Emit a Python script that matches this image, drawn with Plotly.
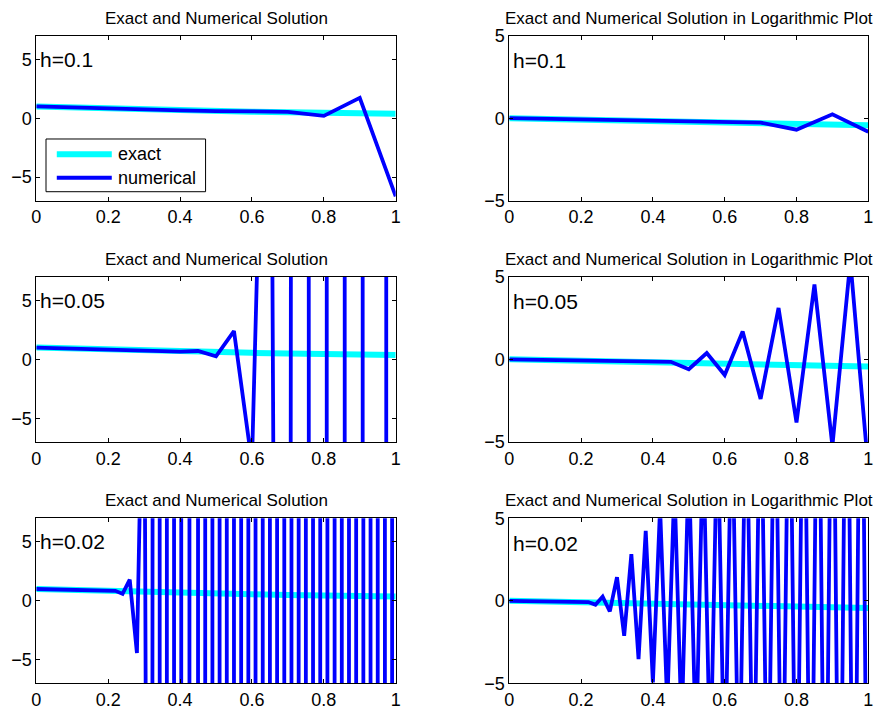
import numpy as np
import plotly.graph_objects as go

# ---------------- data ----------------
x_exact = [0.0, 0.1, 0.2, 0.3, 0.4, 0.5, 0.6, 0.7, 0.8, 0.9, 1.0]
exact_vals = [1.0, 0.9048, 0.8187, 0.7408, 0.6703, 0.6065, 0.5488, 0.4966, 0.4493, 0.4066, 0.3679]
exact_log = [0.0, -0.0434, -0.0869, -0.1303, -0.1737, -0.2171, -0.2606, -0.3040, -0.3474, -0.3909, -0.4343]

x_h01 = [0.0, 0.1, 0.2, 0.3, 0.4, 0.5, 0.6, 0.7, 0.8, 0.9, 1.0]
num_h01 = [1.0, 0.9048, 0.8187, 0.7409, 0.6700, 0.6082, 0.5400, 0.5435, 0.2006, 1.726, -6.633]
log_h01 = [0.0, -0.0434, -0.0869, -0.1303, -0.1739, -0.2159, -0.2676, -0.2648, -0.6977, 0.2371, -0.8217]

x_h005 = [0.0, 0.05, 0.1, 0.15, 0.2, 0.25, 0.3, 0.35, 0.4, 0.45, 0.5,
          0.55, 0.6, 0.65, 0.7, 0.75, 0.8, 0.85, 0.9, 0.95, 1.0]
num_h005 = [1.0, 0.9512, 0.9048, 0.8607, 0.8187, 0.7789, 0.7403, 0.7073, 0.6570, 0.7062, 0.2534,
            2.396, -8.820, 48.79, -248.1, 1281.1, -6596.5, 33990.0, -175090.0, 901900.0, -4646000.0]
log_h005 = [0.0, -0.0217, -0.0434, -0.0651, -0.0869, -0.1085, -0.1306, -0.1504, -0.1824, -0.1511, -0.5961,
            0.3794, -0.9455, 1.6883, -2.3946, 3.1076, -3.8193, 4.5314, -5.2433, 5.9552, -6.6671]

x_h002 = [0.0, 0.02, 0.04, 0.06, 0.08, 0.1, 0.12, 0.14, 0.16, 0.18,
          0.2, 0.22, 0.24, 0.26, 0.28, 0.3, 0.32, 0.34, 0.36, 0.38,
          0.4, 0.42, 0.44, 0.46, 0.48, 0.5, 0.52, 0.54, 0.56, 0.58,
          0.6, 0.62, 0.64, 0.66, 0.68, 0.7, 0.72, 0.74, 0.76, 0.78,
          0.8, 0.82, 0.84, 0.86, 0.88, 0.9, 0.92, 0.94, 0.96, 0.98, 1.0]
num_h002 = [1.0, 0.9802, 0.9608, 0.9418, 0.9231, 0.9048, 0.8869, 0.8694, 0.8518, 0.8368,
            0.8108, 0.8426, 0.5840, 1.797, -4.435, 27.00, -132.2, 673.0, -3401.0, 17219.0,
            -87129.0, 4.410e5, -2.231e6, 1.129e7, -5.713e7, 2.891e8, -1.463e9, 7.402e9, -3.746e10, 1.895e11,
            -9.590e11, 4.853e12, -2.456e13, 1.243e14, -6.288e14, 3.182e15, -1.610e16, 8.147e16, -4.123e17, 2.086e18,
            -1.056e19, 5.341e19, -2.703e20, 1.368e21, -6.921e21, 3.502e22, -1.772e23, 8.967e23, -4.538e24, 2.296e25,
            -1.162e26]
log_h002 = [0.0, -0.0087, -0.0174, -0.0261, -0.0347, -0.0434, -0.0521, -0.0608, -0.0696, -0.0774,
            -0.0911, -0.0744, -0.2336, 0.2545, -0.6468, 1.4313, -2.1211, 2.8280, -3.5316, 4.2360,
            -4.9402, 5.6443, -6.3485, 7.0527, -7.7568, 8.4610, -9.1652, 9.8693, -10.5735, 11.2777,
            -11.9818, 12.6860, -13.3902, 14.0943, -14.7985, 15.5027, -16.2068, 16.9110, -17.6152, 18.3193,
            -19.0235, 19.7277, -20.4318, 21.1360, -21.8402, 22.5443, -23.2485, 23.9527, -24.6568, 25.3610,
            -26.0652]

h_labels = ["h=0.1", "h=0.05", "h=0.02"]
title_left = "Exact and Numerical Solution"
title_right = "Exact and Numerical Solution in Logarithmic Plot"
legend_labels = ["exact", "numerical"]

x_ticks = [0, 0.2, 0.4, 0.6, 0.8, 1]
x_ticktext = ["0", "0.2", "0.4", "0.6", "0.8", "1"]
y_ticks = [-5, 0, 5]
y_ticktext = ["\u22125", "0", "5"]

rows = [
    (x_h01, num_h01, log_h01),
    (x_h005, num_h005, log_h005),
    (x_h002, num_h002, log_h002),
]

# ---------------- layout geometry ----------------
PAGE_W, PAGE_H = 893, 711
OFF = 8                      # default page (body) margin of the browser
W, H = PAGE_W - OFF, PAGE_H - OFF
FONT = "Liberation Sans, Arial, Helvetica, sans-serif"
# panel edges in window pixels
col_px = [(36.3, 395.7), (509.3, 868.3)]
row_px = [(35.7, 200.7), (276.7, 442.0), (518.3, 683.3)]
CYAN = "#00FFFF"
BLUE = "#0000FF"
# the browser cannot stroke astronomically large pixel coordinates; values far
# outside the visible range are clamped only for drawing (they still leave the axes)
DRAW_LIMIT = 1e6

fig = go.Figure()
layout = dict(
    width=W, height=H,
    margin=dict(l=0, r=0, t=0, b=0, pad=0, autoexpand=False),
    paper_bgcolor="white", plot_bgcolor="white",
    showlegend=False,
    font=dict(family=FONT, size=18, color="black"),
)
annotations = []
shapes = []

for r, (xs, nums, logs) in enumerate(rows):
    for c in range(2):
        k = r * 2 + c + 1
        xa = "xaxis" if k == 1 else f"xaxis{k}"
        ya = "yaxis" if k == 1 else f"yaxis{k}"
        xr = "x" if k == 1 else f"x{k}"
        yr = "y" if k == 1 else f"y{k}"
        x0p, x1p = col_px[c]
        y0p, y1p = row_px[r]
        common = dict(showline=True, linecolor="black", linewidth=1, mirror="ticks",
                      ticks="inside", ticklen=4, tickcolor="black", tickwidth=1,
                      showgrid=False, zeroline=False, automargin=False,
                      tickfont=dict(family=FONT, size=18, color="black"))
        layout[xa] = dict(domain=[(x0p - OFF) / W, (x1p - OFF) / W], anchor=yr, range=[0, 1],
                          tickmode="array", tickvals=x_ticks, ticktext=x_ticktext, **common)
        yrange = [-7, 7] if c == 0 else [-5, 5]
        layout[ya] = dict(domain=[1 - (y1p - OFF) / H, 1 - (y0p - OFF) / H], anchor=xr, range=yrange,
                          tickmode="array", tickvals=y_ticks, ticktext=y_ticktext, **common)
        ex_y = exact_vals if c == 0 else exact_log
        nm_y = np.clip(np.array(nums if c == 0 else logs, dtype=float), -DRAW_LIMIT, DRAW_LIMIT)
        fig.add_trace(go.Scatter(x=x_exact, y=ex_y, mode="lines", xaxis=xr, yaxis=yr,
                                 line=dict(color=CYAN, width=6), name=legend_labels[0]))
        fig.add_trace(go.Scatter(x=xs, y=nm_y, mode="lines", xaxis=xr, yaxis=yr,
                                 line=dict(color=BLUE, width=3.8), name=legend_labels[1]))
        # subplot title
        annotations.append(dict(text=title_left if c == 0 else title_right,
                                xref=f"{xr} domain", yref=f"{yr} domain", x=0.5, y=1,
                                xanchor="center", yanchor="middle", yshift=17.5, showarrow=False,
                                font=dict(family=FONT, size=17, color="black")))
        # h label
        annotations.append(dict(text=h_labels[r], xref=xr, yref=yr, x=0.005,
                                y=5 if c == 0 else 3.5, xanchor="left", yanchor="middle",
                                showarrow=False, font=dict(family=FONT, size=21, color="black")))

# manual legend in first panel
shapes.append(dict(type="rect", xref="x domain", yref="y domain", x0=0.027, x1=0.471,
                   y0=0.0545, y1=0.374, line=dict(color="black", width=1), fillcolor="white",
                   layer="above"))
for i, (col, wdt, yy) in enumerate([(CYAN, 6, 0.281), (BLUE, 3.8, 0.139)]):
    shapes.append(dict(type="line", xref="x domain", yref="y domain", x0=0.057, x1=0.21,
                       y0=yy, y1=yy, line=dict(color=col, width=wdt), layer="above"))
    annotations.append(dict(text=legend_labels[i], xref="x domain", yref="y domain",
                            x=0.222, y=yy, xanchor="left", yanchor="middle", showarrow=False,
                            font=dict(family=FONT, size=18, color="black")))

layout["annotations"] = annotations
layout["shapes"] = shapes
fig.update_layout(**layout)
fig.write_html("out.html")
